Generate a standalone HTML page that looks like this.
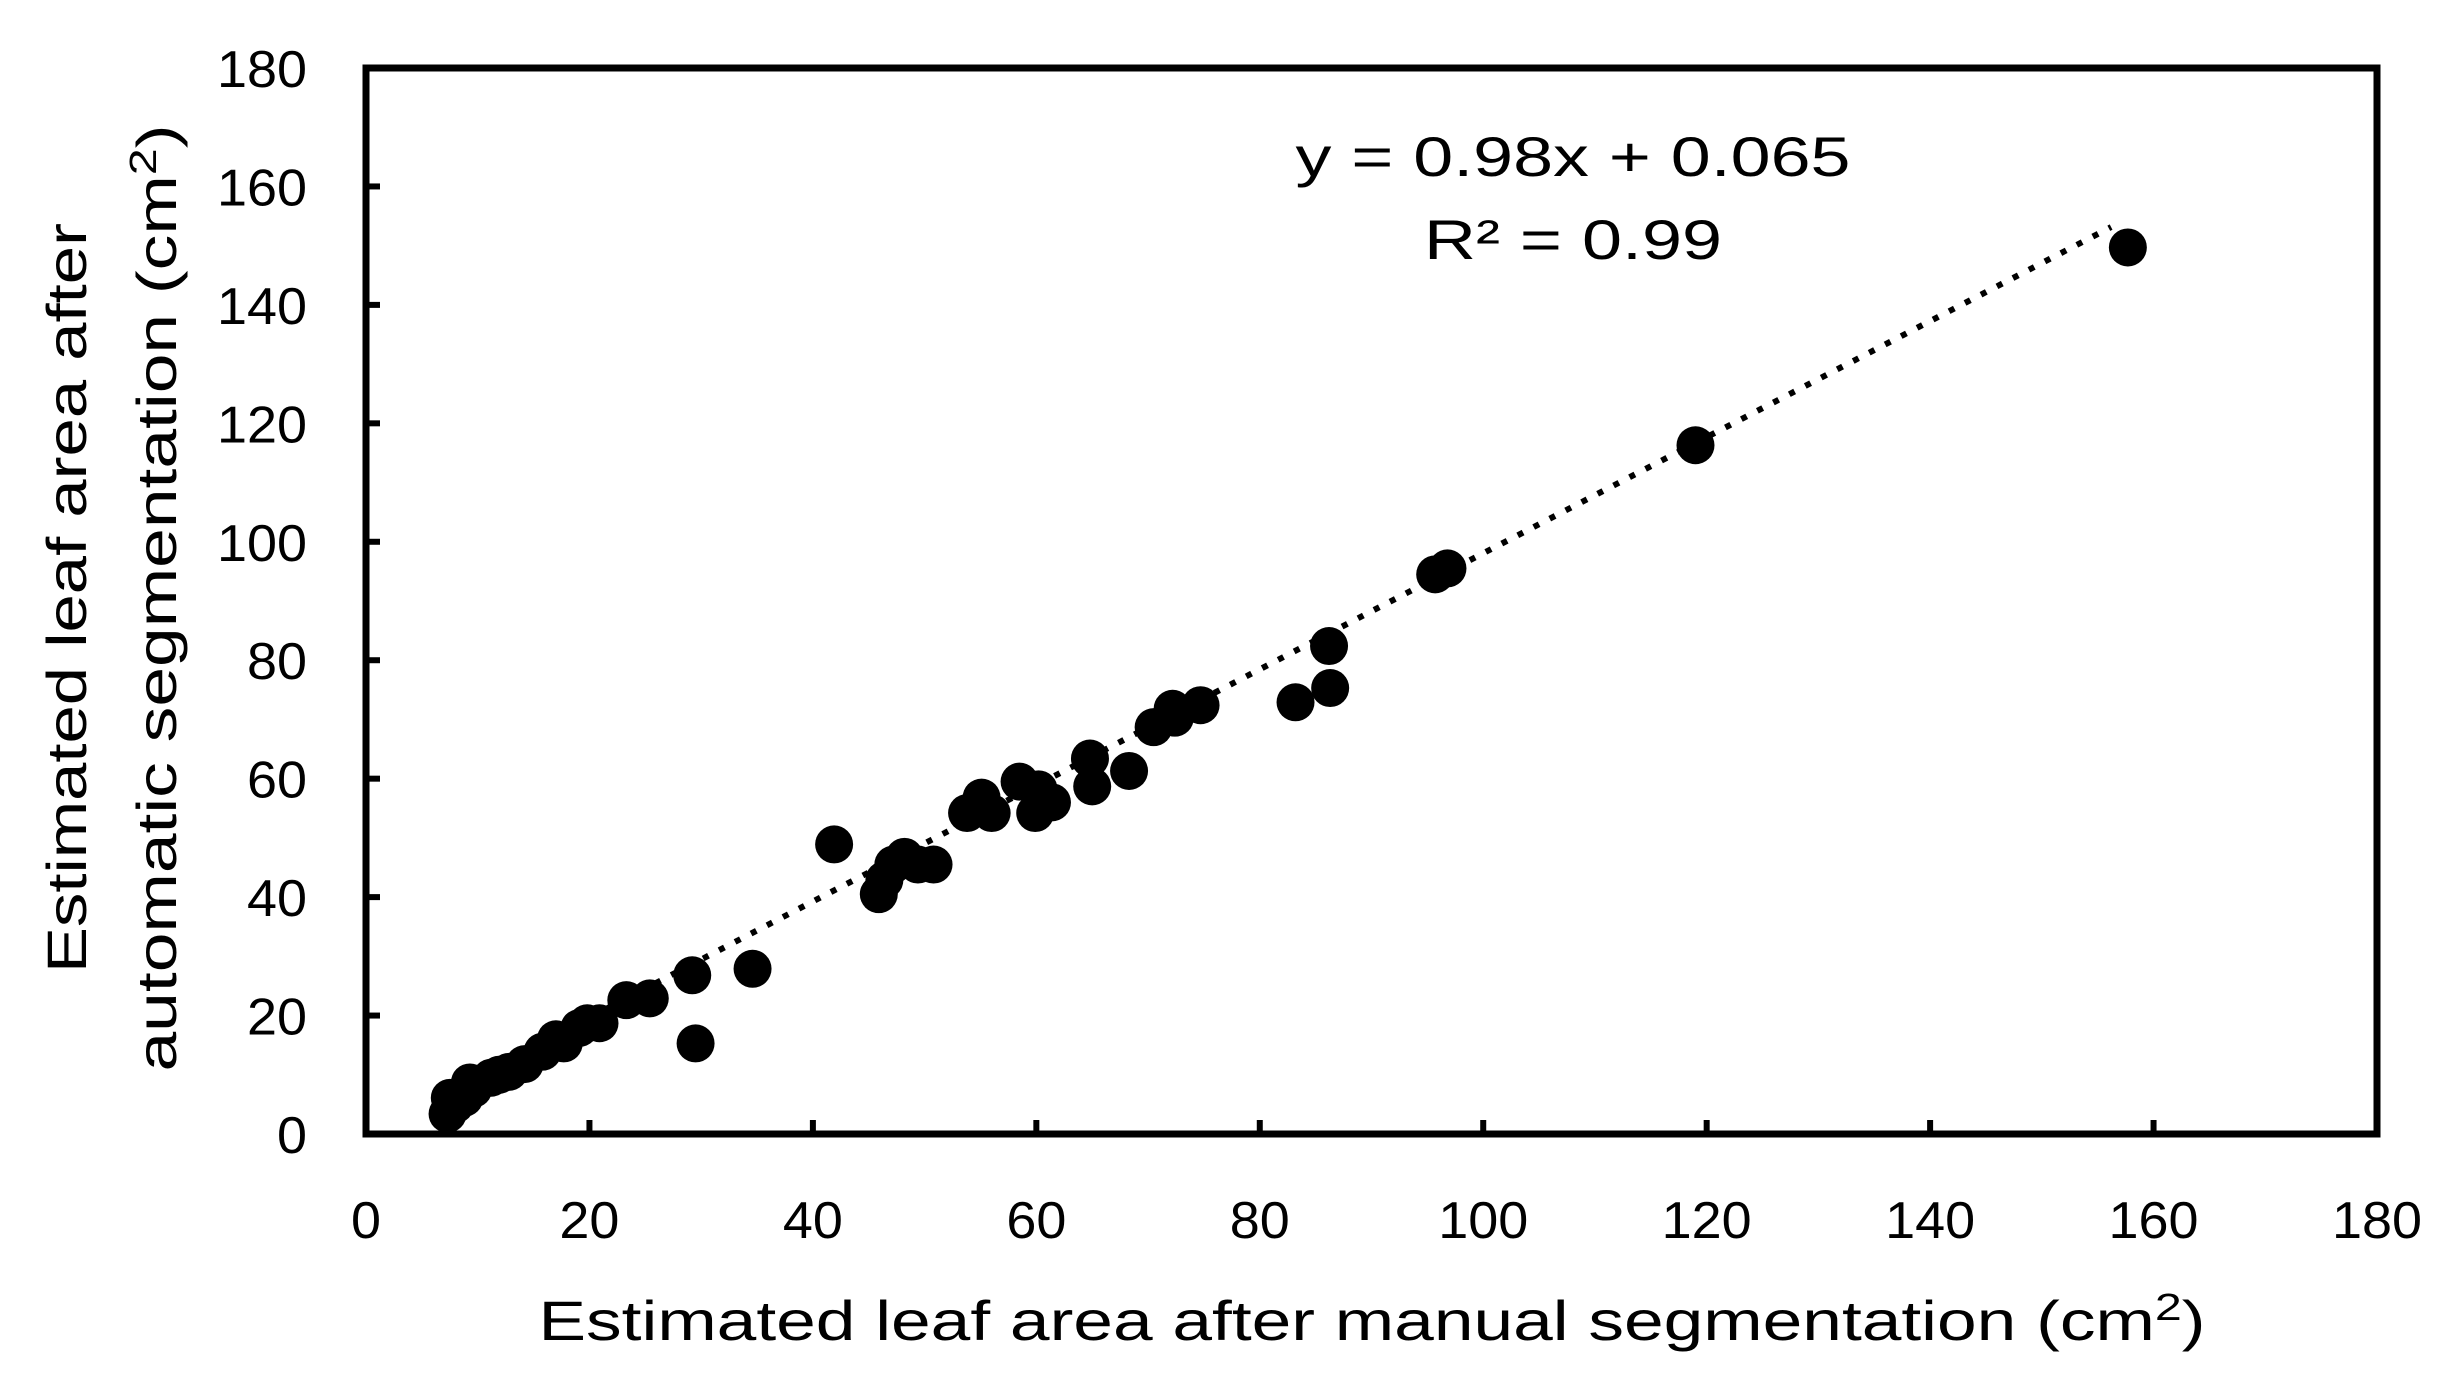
<!DOCTYPE html>
<html><head><meta charset="utf-8"><style>
html,body{margin:0;padding:0;background:#fff;}
svg{display:block;font-family:"Liberation Sans",sans-serif;}
</style></head><body>
<svg id="chart" width="2450" height="1381" viewBox="0 0 2450 1381" xmlns="http://www.w3.org/2000/svg">
<rect x="0" y="0" width="2450" height="1381" fill="#fff"/>
<g id="marks"></g>
<rect x="366" y="68" width="2011" height="1066" fill="none" stroke="#000" stroke-width="7"/>
<g id="axes"></g>
<text x="1573" y="176" font-size="56" text-anchor="middle" textLength="555" lengthAdjust="spacingAndGlyphs">y = 0.98x + 0.065</text>
<text x="1573" y="259" font-size="56" text-anchor="middle" textLength="298" lengthAdjust="spacingAndGlyphs">R² = 0.99</text>
<text x="1372" y="1340" font-size="56" text-anchor="middle" textLength="1667" lengthAdjust="spacingAndGlyphs">Estimated leaf area after manual  segmentation (cm<tspan font-size="38" dy="-20">2</tspan><tspan dy="20">)</tspan></text>
<text transform="translate(86,598) rotate(-90)" font-size="56" text-anchor="middle" textLength="750" lengthAdjust="spacingAndGlyphs">Estimated leaf area after</text>
<text transform="translate(176,598) rotate(-90)" font-size="56" text-anchor="middle" textLength="947" lengthAdjust="spacingAndGlyphs">automatic segmentation (cm<tspan font-size="38" dy="-20">2</tspan><tspan dy="20">)</tspan></text>
</svg>
<script>
const xTicks = [0,20,40,60,80,100,120,140,160,180];
const yTicks = [0,20,40,60,80,100,120,140,160,180];
const xVals = [157.7,119,95.7,96.8,86.2,86.3,83.2,74.7,72.4,72.2,70.5,68.3,64.8,65,61.4,59.9,60.2,58.5,56,55.1,53.8,50.8,49.4,48.2,47.2,45.9,46.4,41.9,34.6,29.2,29.5,25.4,23.3,20.9,19.1,17.7,15.8,14.2,12.8,11.2,9.6,8.8,8.0,7.3,7.5,9.3,11.9,17,19.8];
const yVals = [149.7,116.3,94.5,95.5,82.4,75.3,72.9,72.4,70.3,71.8,68.7,61.3,63.4,58.7,56,54.2,58.2,59.5,54.2,56.8,54.2,45.5,45.5,46.8,45.5,40.5,42.9,48.9,27.9,26.8,15.3,22.9,22.6,18.7,17.9,15.3,13.9,11.8,10.5,9.5,7.6,6.1,5.0,3.4,6.1,8.7,10,16,18.7];
const slope = 0.98, intercept = 0.065;
const NS = "http://www.w3.org/2000/svg";
const X0=366, X1=2377, Y0=1134, Y1=68;
function sx(v){return X0+(v-0)/180*(X1-X0);}
function sy(v){return Y0-(v-0)/180*(Y0-Y1);}
const axes=document.getElementById('axes');
const marks=document.getElementById('marks');
function mk(tag,attrs,parent){const e=document.createElementNS(NS,tag);for(const k in attrs)e.setAttribute(k,attrs[k]);parent.appendChild(e);return e;}
xTicks.forEach(t=>{
  const l=mk('line',{x1:sx(t),x2:sx(t),y1:Y0,y2:Y0-14,stroke:'#000','stroke-width':6},axes);
  
  
  const s=String(t);
  const tx=mk('text',{x:sx(t),y:1238,'font-size':52,'text-anchor':'middle',textLength:s.length*30,lengthAdjust:'spacingAndGlyphs'},axes);
  tx.textContent=s;
  
  
});
yTicks.forEach(t=>{
  const l=mk('line',{x1:X0,x2:X0+14,y1:sy(t),y2:sy(t),stroke:'#000','stroke-width':6},axes);
  
  
  const s=String(t);
  const tx=mk('text',{x:307,y:sy(t)+19,'font-size':52,'text-anchor':'end',textLength:s.length*30,lengthAdjust:'spacingAndGlyphs'},axes);
  tx.textContent=s;
  
  
});
const xmin=Math.min(...xVals), xmax=Math.max(...xVals)-1.5;
const tl=mk('line',{x1:sx(xmin),y1:sy(slope*xmin+intercept),x2:sx(xmax),y2:sy(slope*xmax+intercept),stroke:'#000','stroke-width':6,'stroke-dasharray':'6 12'},marks);


xVals.forEach((v,i)=>{
  const c=mk('circle',{cx:sx(v),cy:sy(yVals[i]),r:19,fill:'#000'},marks);
  
  
});
</script>
</body></html>
